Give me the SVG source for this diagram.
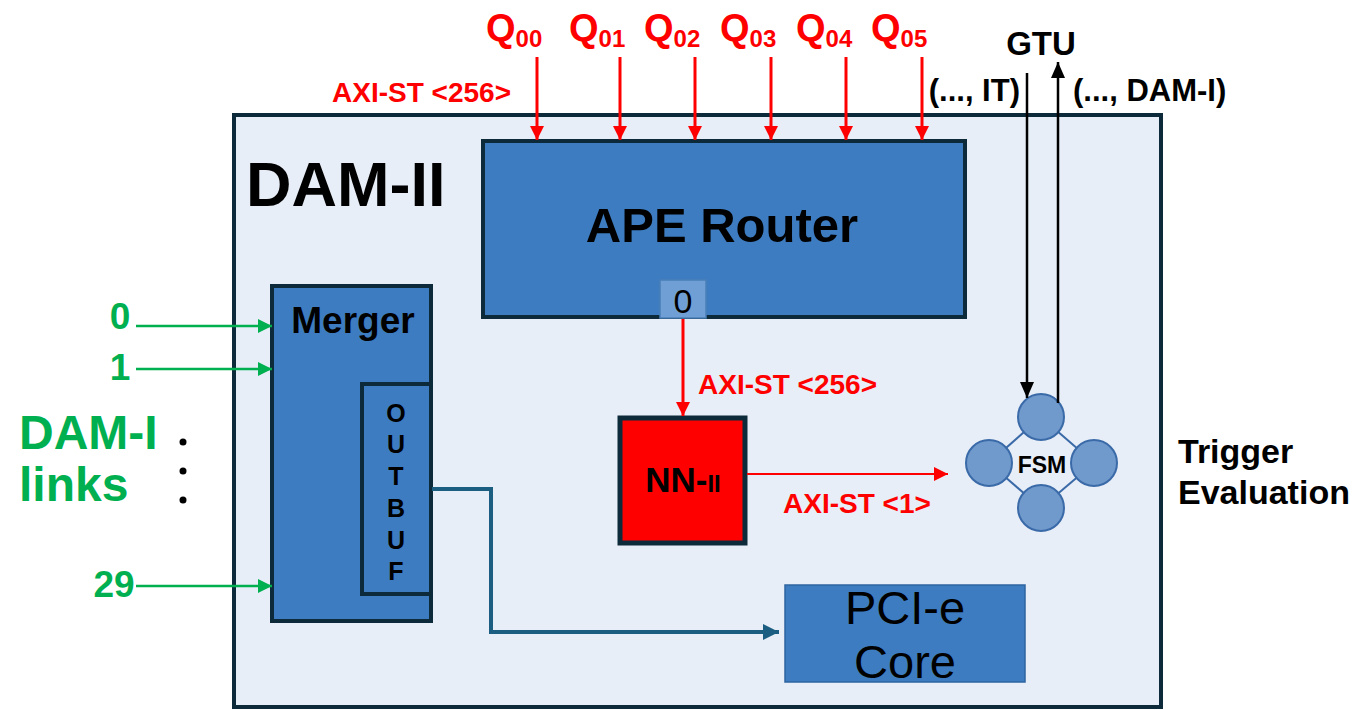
<svg xmlns="http://www.w3.org/2000/svg" width="1360" height="710" viewBox="0 0 1360 710">
<style>
text{font-family:"Liberation Sans",Arial,sans-serif}
.b{font-weight:bold}
.red{fill:#ff0000}
.grn{fill:#00b050}
.blk{fill:#000}
.blk-box{fill:#3d7cc0;stroke:#0d2a3a;stroke-width:4}
.rl{stroke:#ff0000;stroke-width:3;fill:none}
.gl{stroke:#00b050;stroke-width:2.5;fill:none}
.kl{stroke:#000;stroke-width:2.5;fill:none}
.st{fill:#7099cc;stroke:#3a6aa8;stroke-width:2}
</style>
<defs>
<marker id="ar" markerUnits="userSpaceOnUse" markerWidth="14" markerHeight="14" refX="14" refY="7" orient="auto"><path d="M0,0 L14,7 L0,14 z" fill="#ff0000"/></marker>
<marker id="ag" markerUnits="userSpaceOnUse" markerWidth="14" markerHeight="14" refX="14" refY="7" orient="auto"><path d="M0,0 L14,7 L0,14 z" fill="#00b050"/></marker>
<marker id="ak" markerUnits="userSpaceOnUse" markerWidth="16" markerHeight="14" refX="16" refY="7" orient="auto"><path d="M0,0 L16,7 L0,14 z" fill="#000"/></marker>
<marker id="ab" markerUnits="userSpaceOnUse" markerWidth="16" markerHeight="16" refX="16" refY="8" orient="auto"><path d="M0,0 L16,8 L0,16 z" fill="#1b5e82"/></marker>
</defs>

<g id="dam2">
<rect x="234" y="115" width="927" height="592" fill="#e8eef7" stroke="#0d2a3a" stroke-width="4"/>
<text x="246" y="206" class="b blk" font-size="63">DAM-II</text>
</g>

<g id="ape-router">
<rect x="483" y="141" width="482" height="176" class="blk-box"/>
<text x="722" y="242" class="b blk" font-size="49" text-anchor="middle">APE Router</text>
</g>
<g id="port0">
<rect x="660" y="280" width="46" height="38" fill="#6f9fd4" stroke="#4a7fb8" stroke-width="1.5"/>
<text x="683" y="313" class="blk" font-size="34" text-anchor="middle">0</text>
</g>

<g id="merger">
<rect x="272" y="286" width="159" height="335" class="blk-box"/>
<text x="353" y="333" class="b blk" font-size="37" text-anchor="middle">Merger</text>
</g>
<g id="outbuf">
<rect x="362" y="384" width="69" height="210" class="blk-box"/>
<g class="b blk" font-size="25" text-anchor="middle">
<text x="396" y="422">O</text>
<text x="396" y="453">U</text>
<text x="396" y="485">T</text>
<text x="396" y="517">B</text>
<text x="396" y="549">U</text>
<text x="396" y="580">F</text>
</g>
</g>

<g id="nn2">
<rect x="620" y="418" width="125" height="125" fill="#ff0000" stroke="#0d2a3a" stroke-width="5"/>
<text x="683" y="492" class="b blk" text-anchor="middle"><tspan font-size="35">NN-</tspan><tspan font-size="24">II</tspan></text>
</g>

<g id="pcie">
<rect x="785" y="585" width="240" height="97" fill="#3d7cc0" stroke="#2e64a0" stroke-width="1.5"/>
<text x="905" y="624" class="blk" font-size="47" text-anchor="middle">PCI-e</text>
<text x="905" y="678" class="blk" font-size="47" text-anchor="middle">Core</text>
</g>

<g id="fsm">
<g stroke="#3a6aa8" stroke-width="2">
<line x1="1041" y1="417" x2="989" y2="463"/>
<line x1="1041" y1="417" x2="1094" y2="463"/>
<line x1="989" y1="463" x2="1041" y2="508"/>
<line x1="1094" y1="463" x2="1041" y2="508"/>
</g>
<rect x="1012" y="445" width="58" height="36" fill="#e8eef7"/>
<circle cx="1041" cy="417" r="23" class="st"/>
<circle cx="989" cy="463" r="23" class="st"/>
<circle cx="1094" cy="463" r="23" class="st"/>
<circle cx="1041" cy="508" r="23" class="st"/>
<text x="1042" y="473" class="b blk" font-size="23" text-anchor="middle">FSM</text>
</g>

<g id="labels">
<g class="b red" font-size="38">
<text x="486" y="41">Q<tspan font-size="24" dy="6">00</tspan></text>
<text x="569" y="41">Q<tspan font-size="24" dy="6">01</tspan></text>
<text x="644" y="41">Q<tspan font-size="24" dy="6">02</tspan></text>
<text x="720" y="41">Q<tspan font-size="24" dy="6">03</tspan></text>
<text x="796" y="41">Q<tspan font-size="24" dy="6">04</tspan></text>
<text x="871" y="41">Q<tspan font-size="24" dy="6">05</tspan></text>
</g>
<text x="332" y="102" class="b red" font-size="28">AXI-ST &lt;256&gt;</text>
<text x="698" y="394" class="b red" font-size="28">AXI-ST &lt;256&gt;</text>
<text x="783" y="513" class="b red" font-size="28">AXI-ST &lt;1&gt;</text>
<text x="1041" y="55" class="b blk" font-size="33" text-anchor="middle">GTU</text>
<text x="1020" y="101" class="b blk" font-size="31" text-anchor="end">(..., IT)</text>
<text x="1073" y="101" class="b blk" font-size="31">(..., DAM-I)</text>
<text x="1178" y="463" class="b blk" font-size="34">Trigger</text>
<text x="1178" y="504" class="b blk" font-size="34">Evaluation</text>
<text x="120" y="329" class="b grn" font-size="37" text-anchor="middle">0</text>
<text x="120" y="380" class="b grn" font-size="37" text-anchor="middle">1</text>
<text x="114" y="597" class="b grn" font-size="37" text-anchor="middle">29</text>
<text x="19" y="449" class="b grn" font-size="48">DAM-I</text>
<text x="19" y="501" class="b grn" font-size="48">links</text>
<circle cx="183" cy="442" r="3.5" fill="#000"/>
<circle cx="183" cy="471" r="3.5" fill="#000"/>
<circle cx="183" cy="500" r="3.5" fill="#000"/>
</g>

<g id="connectors">
<line x1="537" y1="57" x2="537" y2="140" class="rl" marker-end="url(#ar)"/>
<line x1="620" y1="57" x2="620" y2="140" class="rl" marker-end="url(#ar)"/>
<line x1="695" y1="57" x2="695" y2="140" class="rl" marker-end="url(#ar)"/>
<line x1="771" y1="57" x2="771" y2="140" class="rl" marker-end="url(#ar)"/>
<line x1="846" y1="57" x2="846" y2="140" class="rl" marker-end="url(#ar)"/>
<line x1="922" y1="57" x2="922" y2="140" class="rl" marker-end="url(#ar)"/>
<line x1="683" y1="319" x2="683" y2="416" class="rl" marker-end="url(#ar)"/>
<line x1="747" y1="474" x2="948" y2="474" stroke="#ff0000" stroke-width="2" marker-end="url(#ar)"/>
<line x1="136" y1="326" x2="272" y2="326" class="gl" marker-end="url(#ag)"/>
<line x1="136" y1="369" x2="272" y2="369" class="gl" marker-end="url(#ag)"/>
<line x1="136" y1="586" x2="272" y2="586" class="gl" marker-end="url(#ag)"/>
<line x1="1027" y1="73" x2="1027" y2="398" class="kl" marker-end="url(#ak)"/>
<line x1="1058" y1="403" x2="1058" y2="62" class="kl" marker-end="url(#ak)"/>
<polyline points="432,489 491,489 491,632 779,632" fill="none" stroke="#1b5e82" stroke-width="4" marker-end="url(#ab)"/>
</g>
</svg>
